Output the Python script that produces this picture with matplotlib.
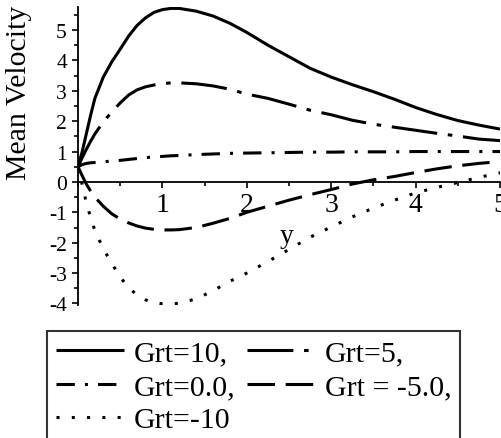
import matplotlib
matplotlib.use("Agg")
import matplotlib.pyplot as plt
from matplotlib.ticker import MultipleLocator, FixedLocator

plt.rcParams["font.family"] = ["Liberation Serif", "DejaVu Serif"]
plt.rcParams["axes.unicode_minus"] = False

# ---------- data ----------
y_pos = [0, 0.05, 0.1, 0.15, 0.2, 0.3, 0.4, 0.5, 0.6, 0.7, 0.8, 0.9, 1.0,
         1.1, 1.2, 1.4, 1.6, 1.8, 2.0, 2.25, 2.5, 2.75, 3.0, 3.25, 3.5,
         3.75, 4.0, 4.25, 4.5, 4.75, 5.0]

v_grt10 = [0.5, 1.0, 1.6, 2.2, 2.75, 3.45, 3.95, 4.37, 4.8, 5.15, 5.4, 5.58,
           5.67, 5.71, 5.71, 5.62, 5.46, 5.22, 4.92, 4.5, 4.12, 3.74, 3.45,
           3.2, 2.97, 2.72, 2.45, 2.22, 2.02, 1.87, 1.74]
v_grt5 = [0.5, 0.8, 1.08, 1.34, 1.58, 1.98, 2.3, 2.6, 2.86, 3.03, 3.13,
          3.19, 3.23, 3.26, 3.26, 3.23, 3.16, 3.05, 2.89, 2.75, 2.56, 2.36,
          2.21, 2.03, 1.9, 1.8, 1.7, 1.6, 1.51, 1.41, 1.36]
v_grt0 = [0.5, 0.57, 0.61, 0.63, 0.64, 0.66, 0.69, 0.71, 0.74, 0.77, 0.8,
          0.82, 0.84, 0.86, 0.87, 0.9, 0.92, 0.94, 0.95, 0.96, 0.97, 0.98,
          0.98, 0.99, 0.99, 0.99, 1.0, 1.0, 1.0, 1.0, 1.0]
v_grtm5 = [0.5, 0.2, -0.08, -0.3, -0.5, -0.8, -1.05, -1.22, -1.35, -1.45,
           -1.52, -1.56, -1.58, -1.58, -1.57, -1.5, -1.36, -1.2, -1.0, -0.8,
           -0.6, -0.42, -0.25, -0.07, 0.07, 0.18, 0.31, 0.43, 0.53, 0.61, 0.67]
v_grtm10 = [0.5, -0.1, -0.7, -1.17, -1.6, -2.2, -2.68, -3.13, -3.48, -3.72,
            -3.88, -3.97, -4.01, -4.02, -3.99, -3.85, -3.58, -3.27, -3.0,
            -2.62, -2.22, -1.82, -1.48, -1.15, -0.86, -0.6, -0.36, -0.18,
            -0.02, 0.15, 0.3]

labels = ["Grt=10,", "Grt=5,", "Grt=0.0,", "Grt = -5.0,", "Grt=-10"]
x_ticks = [1, 2, 3, 4, 5]
y_ticks = [-4, -3, -2, -1, 0, 1, 2, 3, 4, 5]

# ---------- figure ----------
fig = plt.figure(figsize=(5.01, 4.39), dpi=100)
ax = fig.add_axes([78 / 501, (439 - 306) / 439, 422 / 501, (306 - 8.2) / 439])
ax.patch.set_alpha(0)

lw = 2.2
styles = ["-",
          (0, (15, 3.5, 1.5, 3.5)),
          (0, (6, 3.3, 1, 3.3)),
          (0, (9, 3.5)),
          (0, (1, 4))]
series = [v_grt10, v_grt5, v_grt0, v_grtm5, v_grtm10]

lines = []
for vals, ls, lab in zip(series, styles, labels):
    ln, = ax.plot(y_pos, vals, color="black", lw=lw, linestyle=ls,
                  label=lab, solid_capstyle="butt", dash_capstyle="butt")
    lines.append(ln)

ax.set_xlim(0, 5)
ax.set_ylim(-4.05, 5.75)

# axes through the origin, Maple style
for side in ("top", "right"):
    ax.spines[side].set_visible(False)
ax.spines["left"].set_position(("data", 0))
ax.spines["bottom"].set_position(("data", 0))
ax.spines["left"].set_linewidth(1.3)
ax.spines["bottom"].set_linewidth(1.3)

ax.xaxis.set_major_locator(FixedLocator(x_ticks))
ax.xaxis.set_minor_locator(MultipleLocator(0.5))
ax.yaxis.set_major_locator(FixedLocator(y_ticks))
ax.yaxis.set_minor_locator(MultipleLocator(0.5))
ax.tick_params(axis="x", which="major", direction="out", length=4, width=1.2,
               labelsize=20, pad=3)
ax.tick_params(axis="x", which="minor", direction="out", length=3, width=1.2)
ax.tick_params(axis="y", which="major", direction="out", length=4, width=1.2,
               labelsize=15.5, pad=4)
ax.tick_params(axis="y", which="minor", direction="out", length=3, width=1.2)

ax.set_xlabel("y", fontsize=20, va="center")
ax.xaxis.set_label_coords(0.495, 0.233)
fig.text(19 / 501, 1 - 93 / 439, "Mean Velocity", rotation=90,
         ha="center", va="center", fontsize=21.5)

# legend: row order 10, 5 / 0.0, -5.0 / -10 (column-first fill)
order = [0, 2, 4, 1, 3]
leg = fig.legend([lines[i] for i in order], [labels[i] for i in order],
                 loc="upper left", bbox_to_anchor=(47 / 501, 1 - 332 / 439),
                 ncol=2, fontsize=21.5, frameon=True, fancybox=False,
                 borderaxespad=0, borderpad=0.3, labelspacing=0.21,
                 handlelength=2.27, handletextpad=0.33, columnspacing=0.4)
leg.get_frame().set_edgecolor("black")
leg.get_frame().set_linewidth(1.5)

fig.savefig("out.png", dpi=100, facecolor="white")
